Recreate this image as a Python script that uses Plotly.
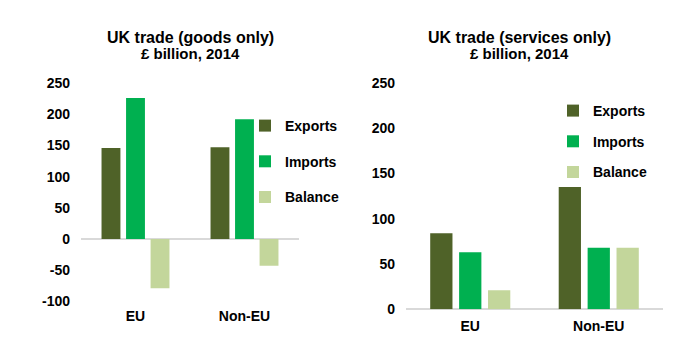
import plotly.graph_objects as go

categories = ["EU", "Non-EU"]
series_names = ["Exports", "Imports", "Balance"]
colors = ["#4f6228", "#00b050", "#c3d69b"]

goods_exports = [146, 147]
goods_imports = [226, 192]
goods_balance = [-79, -43]

services_exports = [84, 135]
services_imports = [63, 68]
services_balance = [21, 68]

goods_ticks = [-100, -50, 0, 50, 100, 150, 200, 250]
goods_tick_labels = ["-100", "-50", "0", "50", "100", "150", "200", "250"]
services_ticks = [0, 50, 100, 150, 200, 250]
services_tick_labels = ["0", "50", "100", "150", "200", "250"]

W, H = 700, 348
FONT = "Liberation Sans, Arial, sans-serif"
BOLD14 = dict(family=FONT, size=14, color="#000000", weight="bold")

fig = go.Figure()

goods = [goods_exports, goods_imports, goods_balance]
services = [services_exports, services_imports, services_balance]

for name, vals, col in zip(series_names, goods, colors):
    fig.add_trace(go.Bar(
        x=categories, y=vals, name=name, marker=dict(color=col, line=dict(width=0)),
        xaxis="x", yaxis="y", legend="legend", legendgroup="g_" + name,
    ))
for name, vals, col in zip(series_names, services, colors):
    fig.add_trace(go.Bar(
        x=categories, y=vals, name=name, marker=dict(color=col, line=dict(width=0)),
        xaxis="x2", yaxis="y2", legend="legend2", legendgroup="s_" + name,
    ))


def px_x(p):
    return p / W


def px_y(p):
    return 1 - p / H


axis_common = dict(showgrid=False, showline=False, ticks="", tickfont=BOLD14,
                   fixedrange=True, automargin=False)

fig.update_layout(
    width=W, height=H, autosize=False,
    margin=dict(l=0, r=0, t=0, b=0, autoexpand=False),
    paper_bgcolor="white", plot_bgcolor="white",
    barmode="group", bargap=0.325, bargroupgap=0.23,
    font=dict(family=FONT, size=14, color="#000000"),
    xaxis=dict(domain=[px_x(81), px_x(299)], anchor="y", type="category",
               range=[-0.5, 1.5], ticklabelstandoff=5, zeroline=False, **axis_common),
    yaxis=dict(domain=[px_y(301.4), px_y(83)], anchor="x", range=[-100, 250],
               tickvals=goods_ticks, ticktext=goods_tick_labels, ticklabelstandoff=10,
               zeroline=True, zerolinecolor="#d9d9d9", zerolinewidth=2, **axis_common),
    xaxis2=dict(domain=[px_x(406), px_x(663)], anchor="y2", type="category",
                range=[-0.5, 1.5], ticklabelstandoff=7, zeroline=False, **axis_common),
    yaxis2=dict(domain=[px_y(309.3), px_y(83)], anchor="x2", range=[0, 250],
                tickvals=services_ticks, ticktext=services_tick_labels, ticklabelstandoff=10,
                zeroline=True, zerolinecolor="#d9d9d9", zerolinewidth=2, **axis_common),
    legend=dict(x=px_x(245), y=px_y(110), xanchor="left", yanchor="top",
                traceorder="grouped", tracegroupgap=14.5, bgcolor="rgba(0,0,0,0)",
                font=BOLD14),
    legend2=dict(x=px_x(553), y=px_y(95), xanchor="left", yanchor="top",
                 traceorder="grouped", tracegroupgap=9.5, bgcolor="rgba(0,0,0,0)",
                 font=BOLD14),
    showlegend=True,
)

titles = [
    (190.5, "UK trade (goods only)"),
    (519.5, "UK trade (services only)"),
]
subtitle = "£ billion, 2014"
for cx, t in titles:
    fig.add_annotation(x=px_x(cx), y=px_y(37.5), xref="paper", yref="paper",
                       text=t, showarrow=False, xanchor="center", yanchor="middle",
                       font=dict(family=FONT, size=16, color="#000000", weight="bold"))
    fig.add_annotation(x=px_x(cx), y=px_y(54), xref="paper", yref="paper",
                       text=subtitle, showarrow=False,
                       xanchor="center", yanchor="middle",
                       font=dict(family=FONT, size=15, color="#000000", weight="bold"))

fig.write_html("out.html")
